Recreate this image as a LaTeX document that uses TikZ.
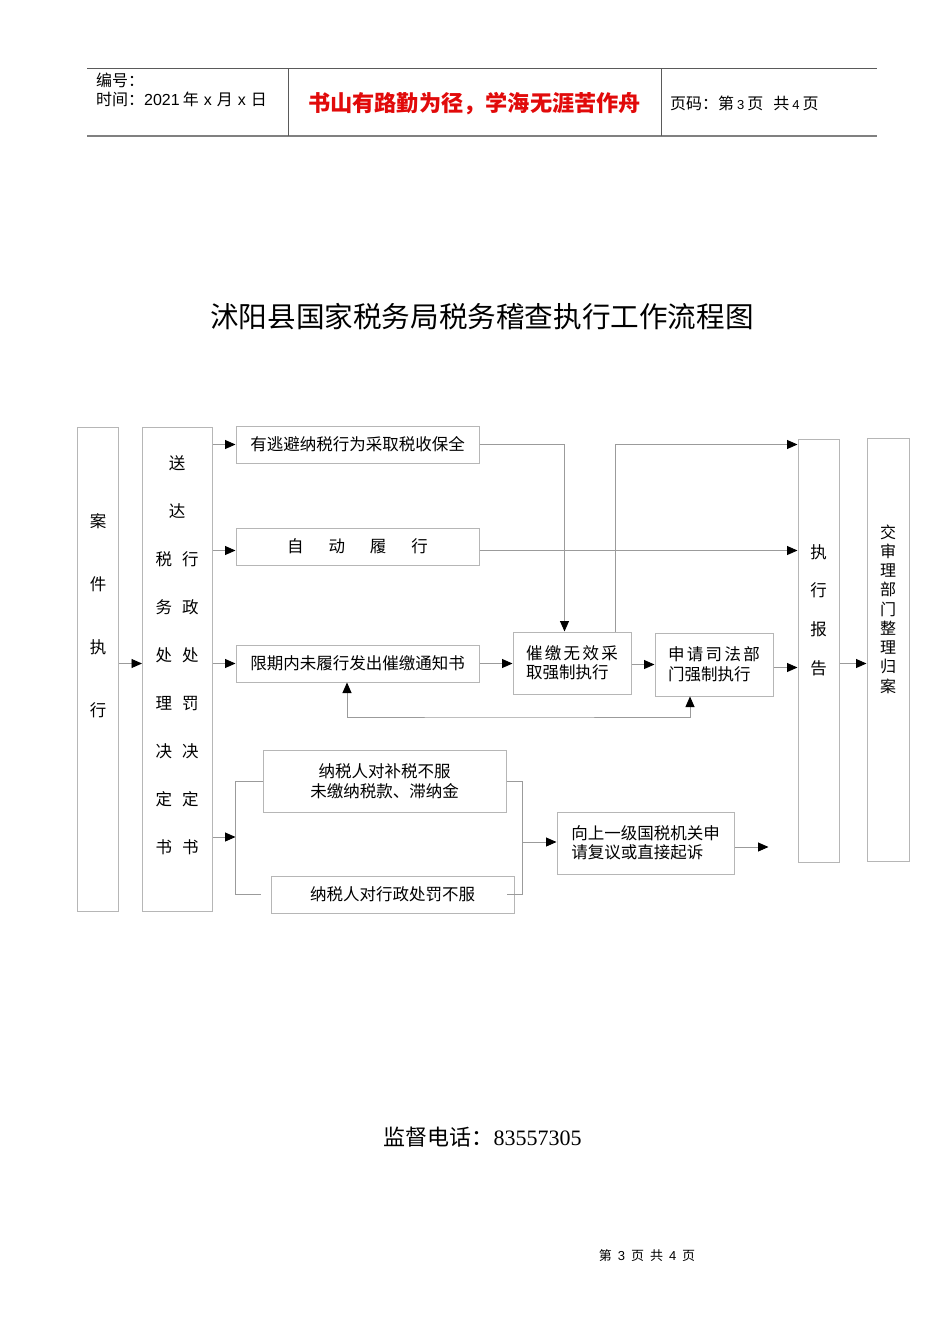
\documentclass[tikz,border=0pt]{standalone}
\usepackage{fontspec}
\setmainfont{Noto Sans CJK SC}
\newfontfamily\serifnum{Liberation Serif}
\newfontfamily\hdsans{Liberation Sans}
\usetikzlibrary{arrows.meta}
\definecolor{boxgray}{RGB}{182,182,182}
\definecolor{linegray}{RGB}{155,155,155}
\definecolor{hdred}{RGB}{225,10,10}
\definecolor{hdline}{RGB}{90,90,90}
\tikzset{
  box/.style={draw=boxgray, line width=1pt, inner sep=0pt, align=center,
    font=\fontsize{16.5}{19.5}\selectfont},
  lbl/.style={inner sep=0pt, align=center},
  conn/.style={draw=linegray, line width=0.9pt},
  arr/.style={conn, -{Triangle[length=10.5pt,width=9pt,color=black]}},
  arrboth/.style={conn, {Triangle[length=10.5pt,width=9pt,color=black]}-{Triangle[length=10.5pt,width=9pt,color=black]}},
}
\begin{document}
\begin{tikzpicture}[x=1pt,y=-1pt]
\useasboundingbox (0,0) rectangle (950,1344);
% header
\draw[hdline, line width=0.9pt] (87,68.5) -- (877,68.5);
\draw[gray, line width=1.8pt] (87,136) -- (877,136);
\draw[hdline, line width=0.9pt] (288,68.5) -- (288,136);
\draw[hdline, line width=0.9pt] (661,68.5) -- (661,136);
\node[lbl, anchor=west, font=\fontsize{16}{18}\selectfont] (hd1) at (96,80) {编号：};
\node[lbl, anchor=west, font=\fontsize{16}{18}\selectfont] (hd2) at (96,99) {时间：{\hdsans 2021}\hspace{3pt}年\hspace{5pt}{\hdsans x}\hspace{5pt}月\hspace{5pt}{\hdsans x}\hspace{5pt}日};
\node[lbl, text=hdred, font=\fontsize{22.2}{25}\selectfont\bfseries] (hd3) at (474.5,104) {书山有路勤为径，学海无涯苦作舟};
\node[lbl, anchor=west, font=\fontsize{16}{18}\selectfont] (hd4) at (670,103) {页码：第\hspace{3pt}{\hdsans\fontsize{13}{15}\selectfont 3}\hspace{3pt}页\hspace{10pt}共\hspace{3pt}{\hdsans\fontsize{13}{15}\selectfont 4}\hspace{3pt}页};
% title
\node[lbl, font=\fontsize{28.6}{32}\selectfont] (title) at (482,317) {沭阳县国家税务局税务稽查执行工作流程图};
% boxes
\node[box, minimum width=41, minimum height=484] (case) at (98,669) {};
\node[box, minimum width=70, minimum height=484] (serve) at (177.5,669) {};
\node[box, minimum width=243, minimum height=37] (b1) at (357.5,444.5) {有逃避纳税行为采取税收保全};
\node[box, minimum width=243, minimum height=37] (b2) at (357.5,546.5) {自\hspace{25pt}动\hspace{25pt}履\hspace{25pt}行};
\node[box, minimum width=243, minimum height=37] (b3) at (357.5,663.5) {限期内未履行发出催缴通知书};
\node[box, minimum width=243, minimum height=62] (b4) at (384.5,781) {纳税人对补税不服\\未缴纳税款、滞纳金};
\node[box, minimum width=243, minimum height=37] (b5) at (392.5,894.5) {纳税人对行政处罚不服};
\node[box, minimum width=118, minimum height=62, align=left] (cj) at (572,663) {催\kern2.3pt缴\kern2.3pt无\kern2.3pt效\kern2.3pt采\\取强制执行};
\node[box, minimum width=118, minimum height=63, align=left] (sq) at (714,664.5) {申\kern2.3pt请\kern2.3pt司\kern2.3pt法\kern2.3pt部\\门强制执行};
\node[box, minimum width=177, minimum height=62, align=left] (up) at (645.5,843) {向上一级国税机关申\\请复议或直接起诉};
\node[box, minimum width=41, minimum height=423] (rep) at (818.5,650.5) {};
\node[box, minimum width=42, minimum height=423] (arch) at (888,649.5) {};
% texts in tall boxes
\node[lbl, font=\fontsize{16.5}{63}\selectfont] (caseT) at (98,615.5) {案\\件\\执\\行};
\node[lbl, font=\fontsize{16.5}{48}\selectfont] (serveT) at (177,655.5) {送\\达\\税\hspace{10pt}行\\务\hspace{10pt}政\\处\hspace{10pt}处\\理\hspace{10pt}罚\\决\hspace{10pt}决\\定\hspace{10pt}定\\书\hspace{10pt}书};
\node[lbl, font=\fontsize{16.5}{38.7}\selectfont] (repT) at (818.5,610) {执\\行\\报\\告};
\node[lbl, font=\fontsize{16}{19.25}\selectfont] (archT) at (888,609) {交\\审\\理\\部\\门\\整\\理\\归\\案};
% coordinates
\coordinate (brk) at (235.5,837);
\coordinate (brk2) at (522.5,842);
\coordinate (fb) at (500,717);
% connectors
\draw[arr] (case.east |- b3) -- (serve.west |- b3);
\draw[arr] (serve.east |- b1) -- (b1.west);
\draw[arr] ([yshift=-4pt]serve.east |- b2) -- ([yshift=-4pt]b2.west);
\draw[arr] (serve.east |- b3) -- (b3.west);
\draw[arr] (serve.east |- brk) -- (brk);
\draw[conn] (b4.west) -- (b4.west -| brk) |- ([xshift=-10pt]b5.west);
\draw[arr] (b1.east) -| ([xshift=-7.5pt]cj.north);
\draw[arr] ([xshift=43pt]cj.north) |- (rep.west |- b1);
\draw[arr] ([yshift=-4pt]b2.east) -- ([yshift=-4pt]rep.west |- b2);
\draw[arr] (b3.east) -- (cj.west |- b3.east);
\draw[arr] ([yshift=-1.5pt]cj.east) -- ([yshift=-1.5pt]sq.west |- cj.east);
\draw[arr] ([yshift=-3pt]sq.east) -- ([yshift=-3pt]rep.west |- sq.east);
\draw[arrboth] ([xshift=-10.5pt]b3.south) |- (fb) -| ([xshift=-24pt]sq.south);
\draw[arr] (rep.east |- b3) -- (arch.west |- b3);
\draw[conn] (b4.east) -- (b4.east -| brk2) |- ([xshift=-8pt]b5.east);
\draw[arr] (brk2) -- (up.west |- brk2);
\draw[arr] ([yshift=-4pt]up.east) -- ++(34,0);
% footer texts
\node[lbl, font=\fontsize{22}{26}\selectfont] (phone) at (482.5,1137) {监督电话：{\serifnum 83557305}};
\node[lbl, font=\fontsize{13}{15}\selectfont] (page) at (647,1256) {第\hspace{6pt}{\hdsans 3}\hspace{6pt}页\hspace{6pt}共\hspace{6pt}{\hdsans 4}\hspace{6pt}页};
\end{tikzpicture}
\end{document}
